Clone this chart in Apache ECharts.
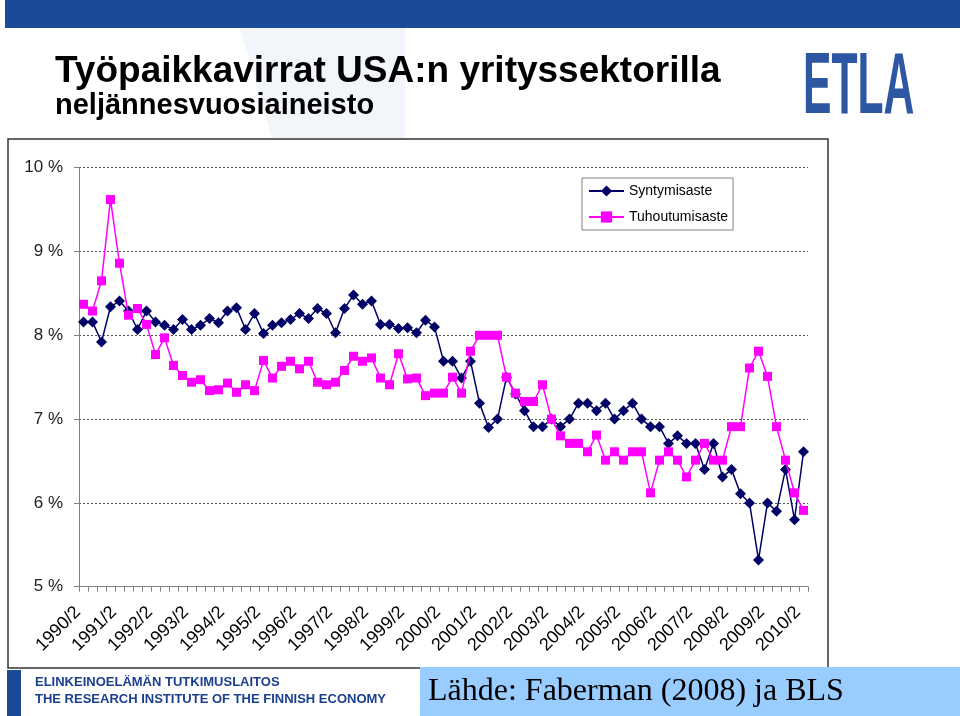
<!DOCTYPE html>
<html>
<head>
<meta charset="utf-8">
<script src="https://cdn.jsdelivr.net/npm/echarts@6/dist/echarts.min.js"></script>
<style>
html,body{margin:0;padding:0;background:#fff;}
#c{width:960px;height:716px;}
</style>
</head>
<body>
<div id="c"></div>
<script>
const categories = [
 '1990/2','1990/3','1990/4','1991/1','1991/2','1991/3','1991/4','1992/1','1992/2','1992/3','1992/4','1993/1',
 '1993/2','1993/3','1993/4','1994/1','1994/2','1994/3','1994/4','1995/1','1995/2','1995/3','1995/4','1996/1',
 '1996/2','1996/3','1996/4','1997/1','1997/2','1997/3','1997/4','1998/1','1998/2','1998/3','1998/4','1999/1',
 '1999/2','1999/3','1999/4','2000/1','2000/2','2000/3','2000/4','2001/1','2001/2','2001/3','2001/4','2002/1',
 '2002/2','2002/3','2002/4','2003/1','2003/2','2003/3','2003/4','2004/1','2004/2','2004/3','2004/4','2005/1',
 '2005/2','2005/3','2005/4','2006/1','2006/2','2006/3','2006/4','2007/1','2007/2','2007/3','2007/4','2008/1',
 '2008/2','2008/3','2008/4','2009/1','2009/2','2009/3','2009/4','2010/1','2010/2'
];
const syntymisaste = [
 8.16,8.16,7.92,8.34,8.41,8.29,8.07,8.29,8.16,8.12,8.07,8.19,
 8.07,8.12,8.20,8.15,8.29,8.33,8.07,8.26,8.02,8.12,8.15,8.19,
 8.26,8.20,8.32,8.26,8.03,8.32,8.48,8.37,8.41,8.13,8.13,8.08,
 8.09,8.03,8.18,8.10,7.69,7.69,7.49,7.69,7.19,6.90,7.00,7.50,
 7.30,7.10,6.91,6.91,7.00,6.91,7.00,7.19,7.19,7.10,7.19,7.00,
 7.10,7.19,7.00,6.91,6.91,6.71,6.80,6.71,6.71,6.40,6.71,6.31,
 6.40,6.11,6.00,5.32,6.00,5.90,6.40,5.80,6.61
];
const tuhoutumisaste = [
 8.37,8.29,8.65,9.62,8.86,8.24,8.32,8.13,7.77,7.97,7.64,7.52,
 7.44,7.47,7.34,7.35,7.43,7.32,7.41,7.34,7.70,7.49,7.63,7.69,
 7.60,7.69,7.44,7.41,7.44,7.58,7.75,7.69,7.73,7.49,7.41,7.78,
 7.48,7.49,7.28,7.31,7.31,7.50,7.31,7.81,8.00,8.00,8.00,7.50,
 7.31,7.21,7.21,7.41,7.00,6.80,6.71,6.71,6.61,6.81,6.51,6.61,
 6.51,6.61,6.61,6.12,6.51,6.61,6.51,6.31,6.51,6.71,6.51,6.51,
 6.91,6.91,7.61,7.81,7.51,6.91,6.51,6.12,5.91
];
const seriesNames = ['Syntymisaste','Tuhoutumisaste'];
const yTicks = {min:5, max:10, interval:1};

const chart = echarts.init(document.getElementById('c'), null, {renderer:'canvas'});
const SANS = '"Liberation Sans", Arial, sans-serif';
const option = {
  animation:false,
  backgroundColor:'#ffffff',
  graphic:[
    {type:'rect', z:-20, shape:{x:5,y:0,width:955,height:28}, style:{fill:'#1b4a97'}},
    {type:'polygon', z:-20, shape:{points:[[240,28],[405,28],[405,138],[272,138]]}, style:{fill:'#f2f5fa'}},
    {type:'text', z:-5, x:55, y:72, style:{text:'Työpaikkavirrat USA:n yrityssektorilla', font:'bold 37px '+SANS, fill:'#000', verticalAlign:'middle', align:'left'}},
    {type:'text', z:-5, x:55, y:106, style:{text:'neljännesvuosiaineisto', font:'bold 29px '+SANS, fill:'#000', verticalAlign:'middle', align:'left'}},
    {type:'text', z:-5, x:803, y:89, scaleX:0.49, style:{text:'ETLA', font:'bold 87px '+SANS, fill:'#2d56a3', verticalAlign:'middle', align:'left'}},
    {type:'rect', z:-10, shape:{x:8,y:139,width:820,height:529}, style:{fill:'#ffffff', stroke:'#333333', lineWidth:1.5}},
    {type:'rect', z:-10, shape:{x:7,y:670,width:14,height:46}, style:{fill:'#1b4a97'}},
    {type:'text', z:-5, x:35, y:682, style:{text:'ELINKEINOELÄMÄN TUTKIMUSLAITOS', font:'bold 13px '+SANS, fill:'#1b3f8f', verticalAlign:'middle'}},
    {type:'text', z:-5, x:35, y:699, style:{text:'THE RESEARCH INSTITUTE OF THE FINNISH ECONOMY', font:'bold 13px '+SANS, fill:'#1b3f8f', verticalAlign:'middle'}},
    {type:'rect', z:-10, shape:{x:420,y:667,width:540,height:49}, style:{fill:'#99ccff'}},
    {type:'text', z:-5, x:428, y:692, style:{text:'Lähde: Faberman (2008) ja BLS', font:'32px "Liberation Serif", "Times New Roman", serif', fill:'#000', verticalAlign:'middle'}}
  ],
  legend:{
    orient:'vertical', left:582, top:178,
    padding:[6,5,6,6], itemWidth:35, itemHeight:14, itemGap:12,
    borderColor:'#808080', borderWidth:1, backgroundColor:'#fff',
    textStyle:{fontSize:14, fontFamily:SANS, color:'#000'},
    data:seriesNames
  },
  grid:{left:79, right:152, top:167.7, bottom:129.3, containLabel:false},
  xAxis:{
    type:'category', data:categories, boundaryGap:true,
    axisLine:{lineStyle:{color:'#808080', width:1}},
    axisTick:{show:true, interval:0, length:5, lineStyle:{color:'#808080'}},
    axisLabel:{interval:3, rotate:45, margin:17, padding:[0,8,0,0], fontSize:18, fontFamily:SANS, color:'#000'},
    splitLine:{show:false}
  },
  yAxis:{
    type:'value', min:yTicks.min, max:yTicks.max, interval:yTicks.interval,
    axisLine:{show:true, lineStyle:{color:'#808080', width:1}},
    axisTick:{show:true, length:5, lineStyle:{color:'#808080'}},
    axisLabel:{formatter:'{value} %', fontSize:17, fontFamily:SANS, color:'#222', margin:16},
    splitLine:{show:true, lineStyle:{color:'#555', type:[2,2], width:1}}
  },
  series:[
    {name:seriesNames[0], type:'line', data:syntymisaste, symbol:'diamond', symbolSize:11, showAllSymbol:true,
     itemStyle:{color:'#000066'}, lineStyle:{color:'#000066', width:1.5}, z:3},
    {name:seriesNames[1], type:'line', data:tuhoutumisaste, symbol:'rect', symbolSize:9, showAllSymbol:true,
     itemStyle:{color:'#ff00ff'}, lineStyle:{color:'#ff00ff', width:1.5}, z:4}
  ]
};
chart.setOption(option);
</script>
</body>
</html>
